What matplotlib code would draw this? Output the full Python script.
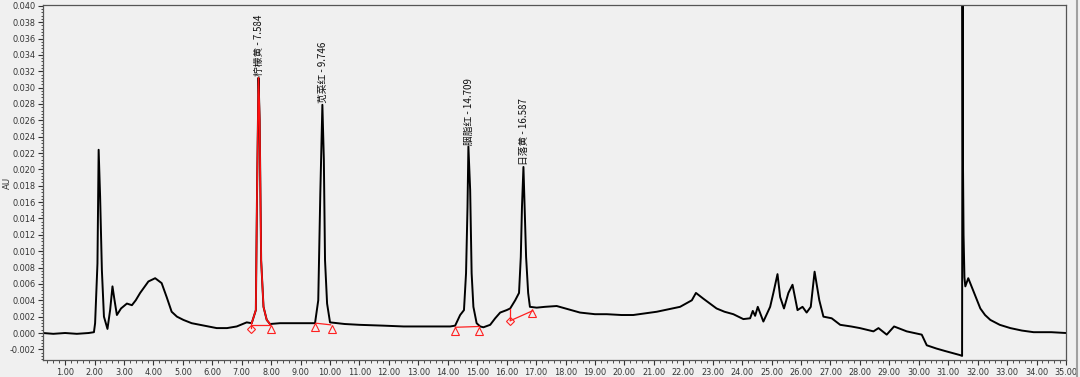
import matplotlib
matplotlib.use("Agg")
import matplotlib.pyplot as plt
from matplotlib.ticker import MultipleLocator, FormatStrFormatter
from matplotlib.lines import Line2D

# ---- data ----
time_min = [0.25, 0.6, 1.0, 1.4, 1.8, 1.98,
            2.02, 2.10, 2.14, 2.19, 2.25, 2.32, 2.44, 2.53, 2.61, 2.68, 2.76, 2.90,
            3.10, 3.27, 3.40, 3.55, 3.83, 4.06, 4.28, 4.45, 4.62, 4.80, 5.02, 5.30,
            5.59, 6.15, 6.50, 6.83, 7.17, 7.34,
            7.48, 7.52, 7.57, 7.61, 7.66, 7.74, 7.85, 7.96,
            8.30, 8.64, 9.00, 9.49, 9.60, 9.67, 9.74, 9.79, 9.83, 9.90, 10.00,
            10.50, 11.00, 11.81, 12.50, 13.20, 13.80, 14.08, 14.25, 14.42, 14.55,
            14.62, 14.67, 14.70, 14.76, 14.81, 14.87, 14.98, 15.10, 15.21, 15.44,
            15.61, 15.78, 16.00, 16.12, 16.29, 16.42, 16.48, 16.52, 16.57, 16.61,
            16.66, 16.73, 16.79, 17.02, 17.30, 17.70, 18.10, 18.49, 19.00, 19.40,
            19.90, 20.30, 20.70, 21.10, 21.50, 21.89, 22.29, 22.43, 22.68, 23.13,
            23.40, 23.70, 24.04, 24.27, 24.36, 24.44, 24.53, 24.72, 24.95, 25.06,
            25.20, 25.29, 25.42, 25.57, 25.71, 25.88, 26.05, 26.19, 26.33, 26.46,
            26.62, 26.76, 27.04, 27.33, 27.70, 28.00, 28.46, 28.63, 28.91, 29.16,
            29.59, 29.85, 30.10, 30.27, 30.60, 30.89, 31.20, 31.40, 31.47, 31.485,
            31.50, 31.52, 31.55, 31.58, 31.68, 31.78, 31.95, 32.09, 32.25, 32.43,
            32.75, 33.11, 33.50, 33.90, 34.50, 35.00]
au = [0.0000, -0.0001, 0.0000, -0.0001, 0.0000, 0.0001,
      0.0012, 0.0085, 0.0224, 0.0167, 0.0077, 0.0020, 0.0005, 0.0028, 0.0057, 0.0040, 0.0022, 0.0030,
      0.0036, 0.0034, 0.0040, 0.0049, 0.0063, 0.0067, 0.0061, 0.0044, 0.0026, 0.0020, 0.0016, 0.0012,
      0.0010, 0.0006, 0.0006, 0.0008, 0.0013, 0.0012,
      0.0028, 0.0170, 0.0312, 0.0260, 0.0089, 0.0032, 0.0016, 0.0011,
      0.0012, 0.0012, 0.0012, 0.0012, 0.0040, 0.0171, 0.0279, 0.0212, 0.0089, 0.0036, 0.0013,
      0.0011, 0.0010, 0.0009, 0.0008, 0.0008, 0.0008, 0.0008, 0.0009, 0.0022, 0.0028,
      0.0073, 0.0154, 0.0228, 0.0175, 0.0073, 0.0032, 0.0012, 0.0008, 0.0007, 0.0010,
      0.0018, 0.0025, 0.0028, 0.0030, 0.0040, 0.0049, 0.0093, 0.0154, 0.0203, 0.0154,
      0.0093, 0.0049, 0.0032, 0.0031, 0.0032, 0.0033, 0.0029, 0.0025, 0.0023, 0.0023,
      0.0022, 0.0022, 0.0024, 0.0026, 0.0029, 0.0032, 0.0040, 0.0049, 0.0042, 0.0030,
      0.0026, 0.0023, 0.0017, 0.0018, 0.0027, 0.0021, 0.0032, 0.0014, 0.0032, 0.0049,
      0.0072, 0.0044, 0.0030, 0.0049, 0.0059, 0.0028, 0.0032, 0.0025, 0.0032, 0.0075,
      0.0040, 0.0020, 0.0018, 0.0010, 0.0008, 0.0006, 0.0002, 0.0006, -0.0002, 0.0008,
      0.0002, 0.0000, -0.0002, -0.0015, -0.0019, -0.0022, -0.0025, -0.0027, -0.0028, 0.0420,
      0.0210, 0.0120, 0.0068, 0.0057, 0.0067, 0.0058, 0.0043, 0.0030, 0.0022, 0.0016,
      0.0010, 0.0006, 0.0003, 0.0001, 0.0001, 0.0000]

# integrated (red) peak span for the first peak
red_start, red_end = 7.34, 7.96

peak_names = ["柠檬黄", "苋菜红", "胭脂红", "日落黄"]
peak_rt = [7.584, 9.746, 14.709, 16.587]
peak_top = [0.0312, 0.0279, 0.0228, 0.0203]

# baseline segments (start t, start AU, end t, end AU)
base_t0 = [7.34, 9.52, 14.26, 16.12]
base_v0 = [0.0010, 0.0012, 0.0007, 0.0015]
base_t1 = [7.95, 10.02, 15.07, 16.87]
base_v1 = [0.0010, 0.0010, 0.0008, 0.0027]
# drop lines (t, from AU, to AU)
drop_t = [7.33, 16.12]
drop_v0 = [0.0013, 0.0029]
drop_v1 = [0.0006, 0.0016]
# markers
diamond_t = [7.32, 16.12]
diamond_v = [0.00045, 0.0015]
tri_t = [7.99, 9.49, 10.07, 14.25, 15.07, 16.87]
tri_v = [0.0005, 0.0007, 0.00045, 0.0003, 0.0003, 0.0025]

y_ticks = [-0.002 + 0.002 * i for i in range(22)]
x_ticks = list(range(1, 36))

# ---- figure ----
bg = "#F0F0F0"
fig = plt.figure(figsize=(10.8, 3.77), dpi=100, facecolor=bg)
ax = fig.add_axes([43 / 1080, 1 - 360 / 377, (1066 - 43) / 1080, (360 - 5) / 377])
ax.set_facecolor(bg)

ax.plot(time_min, au, color="black", lw=1.4, solid_joinstyle="round")
red_idx = [i for i, t in enumerate(time_min) if red_start <= t <= red_end]
ax.plot([time_min[i] for i in red_idx], [au[i] for i in red_idx], color="#FF1010", lw=1.2)

red = "#FF2020"
for t0, v0, t1, v1 in zip(base_t0, base_v0, base_t1, base_v1):
    ax.plot([t0, t1], [v0, v1], color=red, lw=0.9)
for t, v0, v1 in zip(drop_t, drop_v0, drop_v1):
    ax.plot([t, t], [v0, v1], color=red, lw=0.9)
ax.plot(diamond_t, diamond_v, linestyle="none", marker="D", markersize=4.2,
        markerfacecolor="none", markeredgecolor=red, markeredgewidth=0.8)
ax.plot(tri_t, tri_v, linestyle="none", marker="^", markersize=5.5,
        markerfacecolor="none", markeredgecolor=red, markeredgewidth=0.8)

for name, rt, top in zip(peak_names, peak_rt, peak_top):
    ax.text(rt, top + 0.0002, f"{name} - {rt:.3f}", rotation=90, ha="center", va="bottom",
            fontsize=7, family=["Noto Sans CJK SC", "DejaVu Sans"], color="#111111")

ax.set_xlim(0.25, 35.0)
ax.set_ylim(-0.0033, 0.0401)
ax.set_xticks(x_ticks)
ax.set_yticks(y_ticks)
ax.xaxis.set_major_formatter(FormatStrFormatter("%.2f"))
ax.yaxis.set_major_formatter(FormatStrFormatter("%.3f"))
ax.xaxis.set_minor_locator(MultipleLocator(0.2))
ax.yaxis.set_minor_locator(MultipleLocator(0.0004))
ax.tick_params(axis="both", which="major", direction="out", length=3.5, width=0.8,
               labelsize=5.9, colors="#333333", pad=2)
ax.tick_params(axis="both", which="minor", direction="out", length=1.8, width=0.6, colors="#333333")
for s in ax.spines.values():
    s.set_color("#555555")
    s.set_linewidth(0.9)
fig.text(7 / 1080, 1 - 183 / 377, "AU", rotation=90, fontsize=6.2, color="#333333",
         ha="center", va="center")
fig.text(0.507, -0.012, "分钟", fontsize=7, ha="center", va="center",
         family=["Noto Sans CJK SC", "DejaVu Sans"], color="#555555")

# window frame artifacts
fig.add_artist(Line2D([1077 / 1080, 1077 / 1080], [0, 1], color="#A0A0A0", lw=1.5))

fig.savefig("out.png", dpi=100, facecolor=bg)
